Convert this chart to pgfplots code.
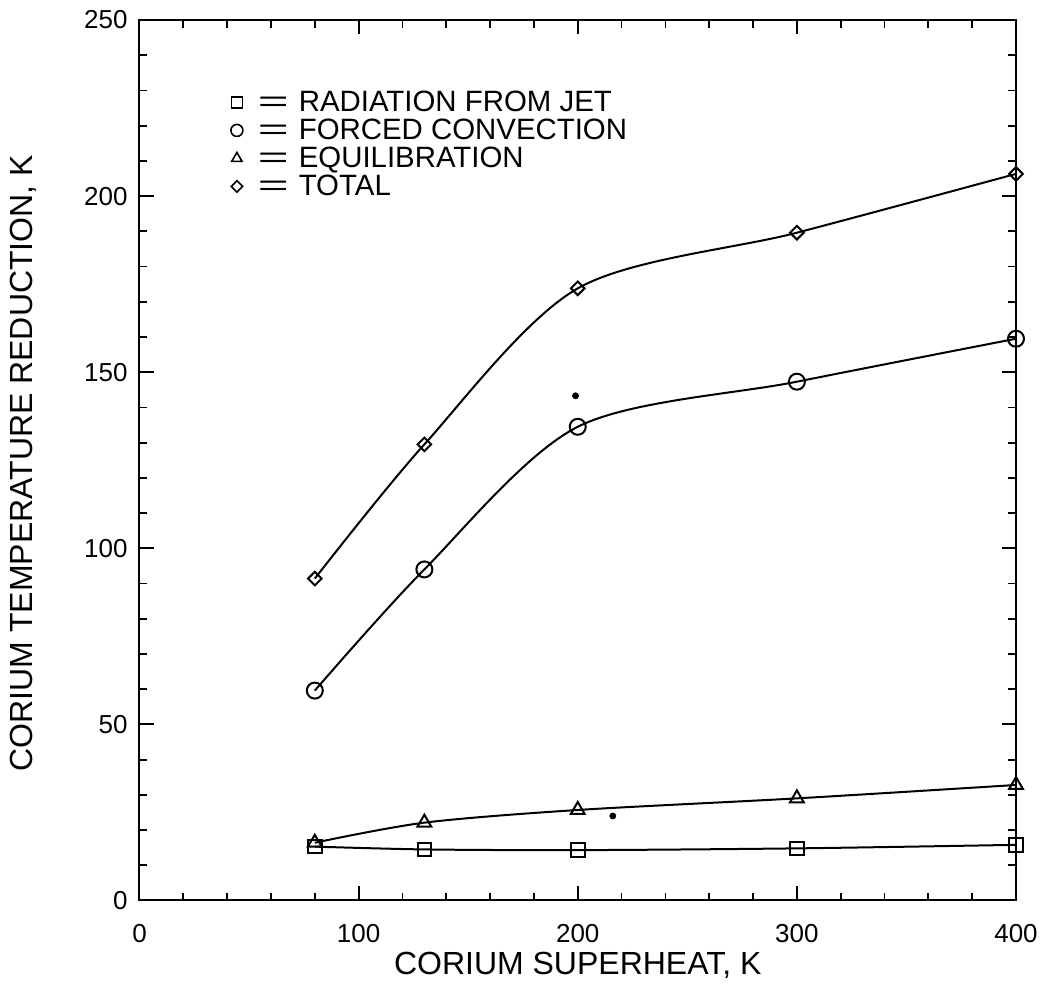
\documentclass[border=0pt]{standalone}
\usepackage{fontspec}
\setmainfont{Liberation Sans}
\usepackage{graphicx}
\usepackage{pgfplots}
\pgfplotsset{compat=1.18}

% wide equals sign used in the key
\newcommand{\eqsign}{\scalebox{1.8}[1]{=}\hspace{5pt}}

\begin{document}
\begin{tikzpicture}
\begin{axis}[
  name=ax,
  scale only axis,
  width=438.25pt, height=440.25pt,
  xmin=0, xmax=400, ymin=0, ymax=250,
  xtick={0,100,200,300,400},
  ytick={0,50,100,150,200,250},
  minor x tick num=4,
  minor y tick num=4,
  tick align=inside,
  major tick length=7pt,
  minor tick length=3.8pt,
  every tick/.style={black, line width=0.9pt},
  axis line style={line width=1pt},
  /pgf/number format/assume math mode=true,
  tick label style={font=\fontsize{13}{15}\selectfont, inner sep=0pt},
  xticklabel style={anchor=base, yshift=-21pt},
  yticklabel style={anchor=east, xshift=-5.75pt},
  every axis x label/.style={at={(rel axis cs:0.5,0)}, anchor=base, yshift=-37pt},
  every axis y label/.style={at={([xshift=-53.25pt,yshift=-1.5pt]rel axis cs:0,0.5)}, anchor=base, rotate=90},
  label style={font=\fontsize{16}{18}\selectfont},
  xlabel={CORIUM SUPERHEAT, K},
  ylabel={CORIUM TEMPERATURE REDUCTION, K},
  legend cell align=left,
  legend style={at={(axis description cs:0.0947,0.9250)}, anchor=north west,
    draw=none, fill=none, font=\fontsize{14.7}{14}\selectfont,
    row sep=0pt, column sep=6.5pt,
    nodes={inner sep=0pt, text height=10.5pt, text depth=3.5pt}},
]
% radiation from the jet
\addplot[black, line width=1pt, smooth, mark=square, mark size=3.4pt,
  legend image code/.code={\path[draw=none] (-4pt,-4pt) rectangle (4pt,4pt);
    \draw[black, line width=0.8pt] plot[mark=square, mark size=2.7pt] coordinates {(0pt,1pt)};}]
  coordinates {(80,15.3) (130,14.5) (200,14.3) (300,14.8) (400,15.8)};
\addlegendentry{\eqsign RADIATION FROM JET}
% forced convection
\addplot[black, line width=1pt, smooth, mark=o, mark size=4pt,
  legend image code/.code={\path[draw=none] (-4pt,-4pt) rectangle (4pt,4pt);
    \draw[black, line width=0.8pt] plot[mark=o, mark size=3pt] coordinates {(0pt,1pt)};}]
  coordinates {(80,59.6) (130,94.0) (200,134.5) (300,147.3) (400,159.5)};
\addlegendentry{\eqsign FORCED CONVECTION}
% equilibration
\addplot[black, line width=1pt, smooth, mark=triangle, mark size=4pt,
  legend image code/.code={\path[draw=none] (-4pt,-4pt) rectangle (4pt,4pt);
    \draw[black, line width=0.8pt] plot[mark=triangle, mark size=3pt] coordinates {(0pt,1pt)};}]
  coordinates {(80,16.4) (130,22.1) (200,25.7) (300,29.0) (400,32.8)};
\addlegendentry{\eqsign EQUILIBRATION}
% total
\addplot[black, line width=1pt, smooth, mark=square, mark size=2.4pt, mark options={rotate=45},
  legend image code/.code={\path[draw=none] (-4pt,-4pt) rectangle (4pt,4pt);
    \draw[black, line width=0.8pt] plot[mark=square, mark size=2pt, mark options={rotate=45}] coordinates {(0pt,1pt)};}]
  coordinates {(80,91.4) (130,129.5) (200,173.8) (300,189.6) (400,206.3)};
\addlegendentry{\eqsign TOTAL}
% isolated dots
\addplot[forget plot, only marks, black, mark=*, mark size=1.5pt]
  coordinates {(199,143.3) (216,24.0)};
\end{axis}
\pgfresetboundingbox
\path[use as bounding box] ([shift={(-69.75pt,-45.75pt)}]ax.south west) rectangle ([shift={(12pt,10pt)}]ax.north east);
\end{tikzpicture}
\end{document}
